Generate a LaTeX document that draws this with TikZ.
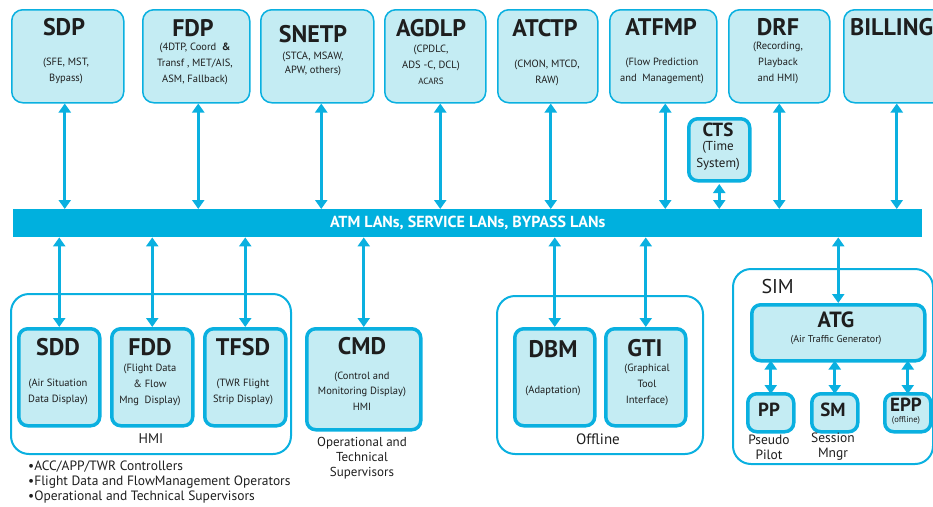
\documentclass[tikz,border=0pt]{standalone}
\usepackage{fontspec}
\setmainfont{PT Sans}
\usepackage{xcolor}
\usetikzlibrary{arrows.meta,positioning}
\definecolor{boxfill}{RGB}{196,236,243}
\definecolor{netblue}{RGB}{10,176,224}
\definecolor{busblue}{RGB}{0,176,222}
\definecolor{inktext}{RGB}{30,30,30}

\begin{document}
\begin{tikzpicture}
			[line cap=round,line join=round,>={Triangle[length=9pt,width=12pt]},x=1pt,y=-1pt,
			topbox/.style={draw=netblue,line width=1.5pt,fill=boxfill,rounded corners=11pt,anchor=north west,inner sep=0pt,minimum height=93pt},
			subbox/.style={draw=netblue,line width=3.5pt,fill=boxfill,rounded corners=9pt,anchor=north west,inner sep=0pt},
			groupbox/.style={draw=netblue,line width=2pt,rounded corners=18pt,anchor=north west,inner sep=0pt},
			title/.style={font=\fontsize{24}{26}\selectfont\bfseries,text=inktext,inner sep=0pt},
			smalltitle/.style={font=\fontsize{19}{20}\selectfont\bfseries,text=inktext,inner sep=0pt},
			desc/.style={font=\fontsize{10.5}{16}\selectfont,align=center,text=inktext,inner sep=0pt},
			note/.style={font=\fontsize{13}{15}\selectfont,align=center,text=inktext,inner sep=0pt},
			link/.style={draw=netblue,fill=netblue,line width=3pt,line cap=butt,<->}]
			\useasboundingbox (0,0) rectangle (933,506);
			% top processing boxes
			\node[topbox,minimum width=112pt] (sdp) at (11,9) {};
			\node[title] (sdp-t) at (64,27) {SDP};
			\node[desc] (sdp-d) at (66,71) {(SFE, MST,\\Bypass)};
			\node[topbox,minimum width=107pt] (fdp) at (142,9) {};
			\node[title] (fdp-t) at (193,28) {FDP};
			\node[desc] (fdp-d) at (195,64) {(4DTP, Coord~~\textbf{\&}\\Transf , MET/AIS,\\ASM, Fallback)};
			\node[topbox,minimum width=113pt] (snetp) at (260,9) {};
			\node[title] (snetp-t) at (313,34) {SNETP};
			\node[desc,font=\fontsize{10.5}{14}\selectfont] (snetp-d) at (313,64) {(STCA, MSAW,\\APW, others)};
			\node[topbox,minimum width=101pt] (agdlp) at (384,9) {};
			\node[title] (agdlp-t) at (431,28) {AGDLP};
			\node[desc] (agdlp-d) at (431,65) {(CPDLC,\\ADS -C, DCL)\\{\fontsize{9}{16}\selectfont ACARS}};
			\node[topbox,minimum width=100pt] (atctp) at (497,9) {};
			\node[title] (atctp-t) at (545,28) {ATCTP};
			\node[desc] (atctp-d) at (547,73) {(CMON, MTCD,\\RAW)};
			\node[topbox,minimum width=107pt] (atfmp) at (609,9) {};
			\node[title] (atfmp-t) at (661,27) {ATFMP};
			\node[desc] (atfmp-d) at (662,71) {(Flow Prediction\\and~~Management)};
			\node[topbox,minimum width=101pt] (drf) at (728,9) {};
			\node[title] (drf-t) at (778,27) {DRF};
			\node[desc] (drf-d) at (778,63) {(Recording,\\Playback\\and HMI)};
			\node[topbox,minimum width=110pt] (billing) at (843,9) {};
			\node[title,anchor=west] (billing-t) at (850,27) {BILLING};
			\node[subbox,minimum width=61pt,minimum height=62pt] (cts) at (687,117) {};
			\node[smalltitle] (cts-t) at (718,130) {CTS};
			\node[note,font=\fontsize{13}{17}\selectfont] (cts-d) at (718,156) {(Time\\System)};
			% network bus
			\node[anchor=north west,fill=busblue,inner sep=0pt,minimum width=909pt,minimum height=28pt,text=white,font=\fontsize{16}{16}\selectfont\bfseries] (bus) at (13,209) {ATM LANs, SERVICE LANs, BYPASS LANs};
			\draw[link] ([xshift=-3pt]sdp.south) -- ([xshift=-3pt]sdp.south |- bus.north);
			\draw[link] ([xshift=2pt]fdp.south) -- ([xshift=2pt]fdp.south |- bus.north);
			\draw[link] ([xshift=4pt]snetp.south) -- ([xshift=4pt]snetp.south |- bus.north);
			\draw[link] ([xshift=5pt]agdlp.south) -- ([xshift=5pt]agdlp.south |- bus.north);
			\draw[link] ([xshift=3pt]atctp.south) -- ([xshift=3pt]atctp.south |- bus.north);
			\draw[link] ([xshift=2pt]atfmp.south) -- ([xshift=2pt]atfmp.south |- bus.north);
			\draw[link] (drf.south) -- (drf.south |- bus.north);
			\draw[link] ([yshift=-1.5pt]cts.south) -- (cts.south |- bus.north);
			\draw[link] ([xshift=-2pt]billing.south) -- ([xshift=-2pt]billing.south |- bus.north);
			% HMI group
			\node[groupbox,minimum width=280pt,minimum height=160pt] (hmi) at (10,293) {};
			\node[font=\fontsize{14}{14}\selectfont,text=inktext] (hmi-l) at (151,439) {HMI};
			\node[subbox,minimum width=81pt,minimum height=97pt] (sdd) at (17,327) {};
			\node[title] (sdd-t) at (58,347) {SDD};
			\node[desc] (sdd-d) at (58,392) {(Air Situation\\Data Display)};
			\node[subbox,minimum width=81pt,minimum height=97pt] (fdd) at (110,327) {};
			\node[title] (fdd-t) at (150,347) {FDD};
			\node[desc] (fdd-d) at (150,385) {(Flight Data\\\& Flow\\Mng~~Display)};
			\node[subbox,minimum width=81pt,minimum height=97pt] (tfsd) at (203,327) {};
			\node[title] (tfsd-t) at (243,347) {TFSD};
			\node[desc] (tfsd-d) at (243,392) {(TWR Flight\\Strip Display)};
			\draw[link] (sdd.north |- bus.south) -- (sdd.north);
			\draw[link] (fdd.north |- bus.south) -- (fdd.north);
			\draw[link] (tfsd.north |- bus.south) -- (tfsd.north);
			\node[note,font=\fontsize{13.5}{15}\selectfont,align=left,anchor=west] (users) at (28,482) {\textbullet ACC/APP/TWR Controllers\\\textbullet Flight Data and FlowManagement Operators\\\textbullet Operational and Technical Supervisors};
			% CMD
			\node[subbox,minimum width=114pt,minimum height=101pt] (cmd) at (305,327) {};
			\node[title] (cmd-t) at (362,346) {CMD};
			\node[desc,font=\fontsize{10.5}{15}\selectfont] (cmd-d) at (362,391) {(Control and\\Monitoring Display)\\[1pt]HMI};
			\node[note] (cmd-l) at (362,458) {Operational and\\Technical\\Supervisors};
			\draw[link] (cmd.north |- bus.south) -- (cmd.north);
			% Offline group
			\node[groupbox,minimum width=206pt,minimum height=158pt] (offline) at (496,295) {};
			\node[font=\fontsize{15}{15}\selectfont,text=inktext] (offline-l) at (598,439) {Offline};
			\node[subbox,minimum width=80pt,minimum height=97pt] (dbm) at (513,327) {};
			\node[title] (dbm-t) at (553,349) {DBM};
			\node[desc] (dbm-d) at (553,391) {(Adaptation)};
			\node[subbox,minimum width=80pt,minimum height=97pt] (gti) at (604,327) {};
			\node[title] (gti-t) at (645,348) {GTI};
			\node[desc] (gti-d) at (647,385) {(Graphical\\Tool\\Interface)};
			\draw[link] (dbm.north |- bus.south) -- (dbm.north);
			\draw[link] (gti.north |- bus.south) -- (gti.north);
			% SIM group
			\node[groupbox,minimum width=200pt,minimum height=195pt] (sim) at (732,268) {};
			\node[font=\fontsize{20}{20}\selectfont,text=inktext,anchor=west] (sim-l) at (758,286) {SIM};
			\node[subbox,minimum width=173pt,minimum height=56pt] (atg) at (750,303) {};
			\node[smalltitle,font=\fontsize{22}{22}\selectfont\bfseries] (atg-t) at (836,320) {ATG};
			\node[desc,font=\fontsize{10}{12}\selectfont] (atg-d) at (836,340) {(Air Traffic Generator)};
			\node[subbox,minimum width=46pt,minimum height=38pt] (pp) at (746,392) {};
			\node[smalltitle] (pp-t) at (769,410) {PP};
			\node[subbox,minimum width=46pt,minimum height=38pt] (sm) at (810,392) {};
			\node[smalltitle] (sm-t) at (833,410) {SM};
			\node[subbox,minimum width=46pt,minimum height=38pt] (epp) at (883,392) {};
			\node[smalltitle] (epp-t) at (906,405) {EPP};
			\node[desc,font=\fontsize{8.5}{10}\selectfont] (epp-d) at (906,420) {(offline)};
			\node[note,font=\fontsize{13.5}{15}\selectfont] (pp-l) at (769,447) {Pseudo\\Pilot};
			\node[note,font=\fontsize{13.5}{15}\selectfont] (sm-l) at (833,447) {Session\\Mngr};
			\draw[link] (atg.north |- bus.south) -- (atg.north);
			\draw[link] ([yshift=2pt]atg.south -| pp.north) -- ([yshift=-2pt]pp.north);
			\draw[link] ([yshift=2pt]atg.south -| sm.north) -- ([yshift=-2pt]sm.north);
			\draw[link] ([yshift=2pt]atg.south -| epp.north) -- ([yshift=-2pt]epp.north);
		\end{tikzpicture}
\end{document}
